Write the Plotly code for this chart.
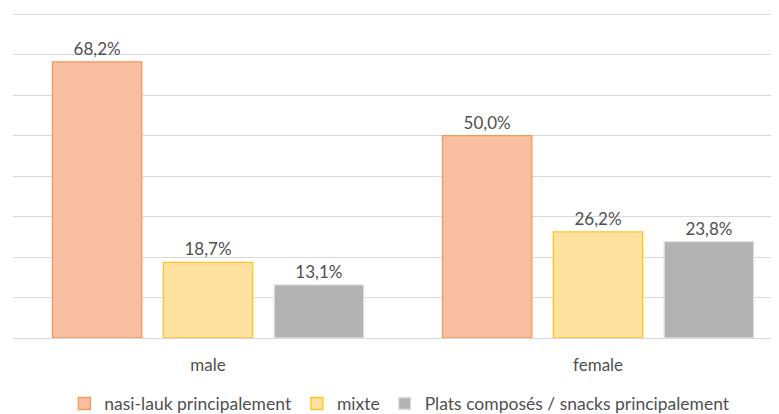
import plotly.graph_objects as go

categories = ["male", "female"]
series_names = ["nasi-lauk principalement", "mixte", "Plats composés / snacks principalement"]
nasi_lauk = [68.2, 50.0]
mixte = [18.7, 26.2]
plats = [13.1, 23.8]

fills = ["#F8BFA2", "#FEE0A0", "#B2B2B2"]
borders = ["#F39A55", "#FFC425", "#E0E0E0"]

FONT = "Lato"
TXT = "#505050"
fig = go.Figure()
for name, vals, fc, bc in zip(series_names, [nasi_lauk, mixte, plats], fills, borders):
    fig.add_trace(go.Bar(
        x=categories, y=vals, name=name,
        marker=dict(color=fc, line=dict(color=bc, width=1.3)),
        text=[f"{v:.1f}".replace(".", ",") + "%" for v in vals],
        textposition="outside", cliponaxis=False,
        textfont=dict(family=FONT, size=17, color=TXT),
    ))

fig.update_layout(
    width=771, height=406,
    margin=dict(l=5, r=0, t=2, b=75.5, autoexpand=False),
    plot_bgcolor="white", paper_bgcolor="white",
    barmode="group", bargap=0.147, bargroupgap=0.194,
    font=dict(family=FONT, size=17, color=TXT),
    showlegend=True,
    legend=dict(orientation="h", x=0.505, xanchor="center", y=-0.2, yanchor="middle",
                font=dict(family=FONT, size=17.5, color=TXT), itemwidth=30),
    xaxis=dict(range=[-0.5, 1.464], showline=True, linecolor="#D9D9D9", linewidth=1,
               ticks="", ticklabelstandoff=12, tickfont=dict(family=FONT, size=17, color=TXT)),
    yaxis=dict(range=[0, 81], dtick=10, showticklabels=False, showgrid=True,
               gridcolor="#D9D9D9", gridwidth=1, zeroline=False),
)
fig.write_html("out.html")
